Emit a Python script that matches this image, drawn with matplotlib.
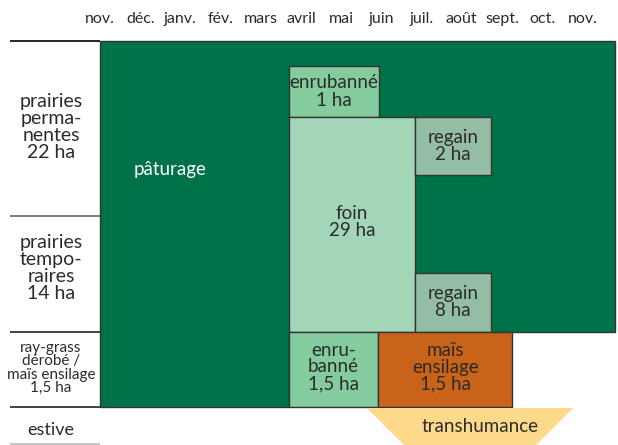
import matplotlib.pyplot as plt
from matplotlib.patches import Polygon, Rectangle

plt.rcParams['font.family'] = ['Lato', 'DejaVu Sans']

# month labels, x = months since the first November
months = ['nov.', 'déc.', 'janv.', 'fév.', 'mars', 'avril', 'mai', 'juin',
          'juil.', 'août', 'sept.', 'oct.', 'nov.']

# left column: surfaces
row_labels = ['prairies\nperma-\nnentes\n22 ha',
              'prairies\ntempo-\nraires\n14 ha',
              'ray-grass\ndérobé /\nmaïs ensilage\n1,5 ha',
              'estive']

# pasture period per row (start, end in months)
paturage_prairies = (0.0, 12.8)
paturage_raygrass = (0.0, 4.7)

# harvests: label, start, end, colour key, vertical slot
blocks = [
    ('enrubanné\n1 ha', 4.7, 6.95, 'enrub', 'top'),
    ('foin\n29 ha', 4.7, 7.84, 'foin', 'foin'),
    ('regain\n2 ha', 7.84, 9.73, 'regain', 'regain1'),
    ('regain\n8 ha', 7.84, 9.73, 'regain', 'regain2'),
    ('enru-\nbanné\n1,5 ha', 4.7, 6.92, 'enrub', 'rg'),
    ('maïs\nensilage\n1,5 ha', 6.92, 10.25, 'mais', 'rg'),
]

# transhumance period (top edge of the arrow)
transhumance = (6.64, 11.77)

colors = {'pat': '#007249', 'enrub': '#84cc9d', 'foin': '#a3d6b8',
          'regain': '#93bda4', 'mais': '#c9631a', 'trans': '#fdd98b'}

# vertical layout (px from the top of the figure)
row_edges = [41, 216, 332, 407, 444]
block_y = {'top': (66, 117), 'foin': (117, 332), 'regain1': (117, 175),
           'regain2': (273, 332), 'rg': (332, 407)}

px_per_month = 40.2
x0 = 100

fig = plt.figure(figsize=(6.18, 4.45), dpi=100)
ax = fig.add_axes([0, 0, 1, 1])
ax.set_xlim(-x0 / px_per_month, (618 - x0) / px_per_month)
ax.set_ylim(445, 0)
ax.axis('off')
xmin = ax.get_xlim()[0]
left = xmin + 10 / px_per_month

ink = '#2b2b2b'
edge = '#333333'

# month labels
for i, m in enumerate(months):
    ax.text(i, 19, m, ha='center', va='center', fontsize=11.5, color=ink)

# pasture
top, rg_top, rg_bot = row_edges[0], row_edges[2], row_edges[3]
pts = [(paturage_prairies[0], top), (paturage_prairies[1], top),
       (paturage_prairies[1], rg_top), (paturage_raygrass[1], rg_top),
       (paturage_raygrass[1], rg_bot), (paturage_raygrass[0], rg_bot)]
ax.add_patch(Polygon(pts, closed=True, facecolor=colors['pat'],
                     edgecolor=edge, lw=1.0))
ax.text(1.75, 170, 'pâturage', ha='center', va='center', fontsize=13.5,
        color='white')

# harvest blocks
for label, s, e, ckey, ykey in blocks:
    y1, y2 = block_y[ykey]
    ax.add_patch(Rectangle((s, y1), e - s, y2 - y1, facecolor=colors[ckey],
                           edgecolor=edge, lw=1.0))
    cy = (y1 + y2) / 2
    if ykey == 'foin':
        cy = 222
    elif ykey == 'rg':
        cy = 367
    ax.text((s + e) / 2, cy, label, ha='center', va='center', fontsize=13.5,
            color=ink, linespacing=1.0)

# transhumance arrow (cut by the bottom of the picture)
s, e = transhumance
half = (e - s) / 2
depth = half * px_per_month
tri = [(s, row_edges[3] + 1), (e, row_edges[3] + 1),
       (s + half, row_edges[3] + 1 + depth)]
ax.add_patch(Polygon(tri, closed=True, facecolor=colors['trans'],
                     edgecolor='none'))
ax.text(9.46, 427, 'transhumance', ha='center', va='center', fontsize=13.5,
        color=ink)

# left column lines
line_cols = ['black', '#666666', '#222222', '#222222', '#bbbbbb']
for y, c in zip(row_edges, line_cols):
    ax.plot([left, 0], [y, y], color=c, lw=1.2, solid_capstyle='butt')

# left column labels
label_y = [127, 268, 368, 430]
label_fs = [14, 14, 11, 13]
label_ls = [1.0, 1.0, 0.92, 1.0]
for lab, y, fs, ls in zip(row_labels, label_y, label_fs, label_ls):
    ax.text(left / 2 - 0.1, y, lab, ha='center', va='center', fontsize=fs,
            color=ink, linespacing=ls)

fig.savefig('out.png', dpi=100)
